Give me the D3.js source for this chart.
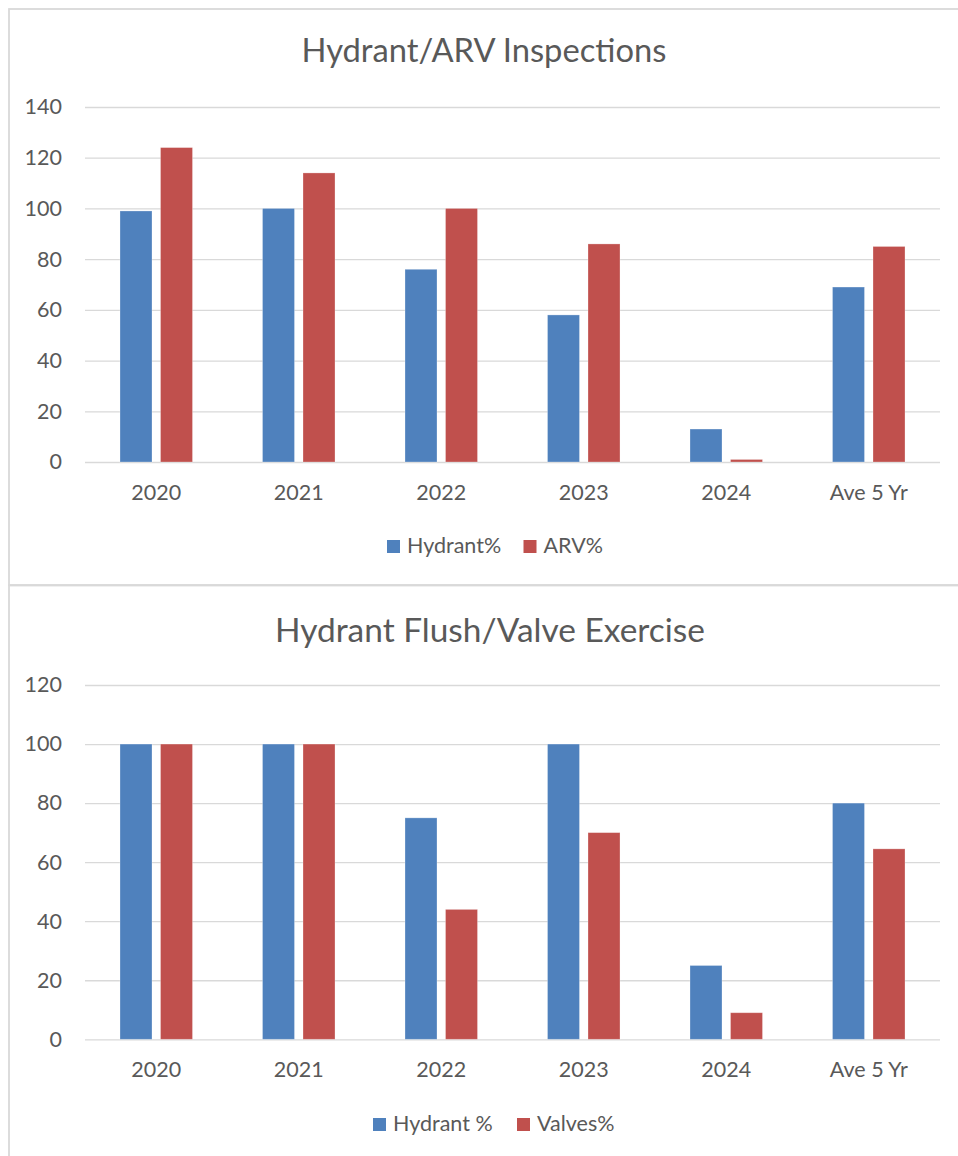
<!DOCTYPE html>
<html>
<head>
<meta charset="utf-8">
<script src="https://cdn.jsdelivr.net/npm/d3@7/dist/d3.min.js"></script>
<style>
  html, body { margin: 0; padding: 0; background: #fff; }
  svg { display: block; }
  text { font-family: Lato, "Open Sans", "Liberation Sans", sans-serif; fill: #595959; }
</style>
</head>
<body>
<script>
// ---- data ----
const categories = ["2020", "2021", "2022", "2023", "2024", "Ave 5 Yr"];

const chart1Title = "Hydrant/ARV Inspections";
const chart1Series = ["Hydrant%", "ARV%"];
const chart1Hydrant = [99, 100, 76, 58, 13, 69];
const chart1ARV = [124, 114, 100, 86, 1, 85];
const chart1Ticks = [0, 20, 40, 60, 80, 100, 120, 140];

const chart2Title = "Hydrant Flush/Valve Exercise";
const chart2Series = ["Hydrant %", "Valves%"];
const chart2Hydrant = [100, 100, 75, 100, 25, 80];
const chart2Valves = [100, 100, 44, 70, 9, 64.5];
const chart2Ticks = [0, 20, 40, 60, 80, 100, 120];

const colors = ["#4F81BD", "#C0504D"];

// ---- layout ----
const W = 958, H = 1156;
const svg = d3.select("body").append("svg").attr("width", W).attr("height", H);

// chart frames
svg.append("rect").attr("x", 9).attr("y", 9).attr("width", W + 20).attr("height", 576)
  .attr("fill", "none").attr("stroke", "#D9D9D9").attr("stroke-width", 1.8);
svg.append("rect").attr("x", 9).attr("y", 585.5).attr("width", W + 20).attr("height", 600)
  .attr("fill", "none").attr("stroke", "#D9D9D9").attr("stroke-width", 1.8);

function fitText(sel, target) {
  const w = sel.node().getComputedTextLength();
  const fs = parseFloat(sel.attr("font-size"));
  sel.attr("font-size", fs * target / w);
}

const LABEL_FS = 21.5;

function drawChart(cfg) {
  const g = svg.append("g");
  const x0 = d3.scaleBand().domain(categories).range([85, 940]).padding(0);
  const x1 = d3.scaleBand().domain(cfg.series).range([0, x0.bandwidth()])
    .paddingInner(0.21).paddingOuter(0.864);
  const y = d3.scaleLinear().domain([0, d3.max(cfg.ticks)]).range([cfg.bottom, cfg.top]);

  // gridlines + y labels via axis
  const yAxis = d3.axisLeft(y).tickValues(cfg.ticks).tickSize(-(940 - 85)).tickPadding(23)
    .tickFormat(d3.format("d"));
  const ya = g.append("g").attr("transform", "translate(85,0)").call(yAxis);
  ya.select(".domain").remove();
  ya.selectAll(".tick line").attr("stroke", "#D9D9D9").attr("stroke-width", 1.3);
  ya.selectAll(".tick text").attr("font-size", LABEL_FS).attr("fill", "#595959")
    .style("font-family", "Lato, sans-serif");

  // bars
  const rows = categories.map((c, i) => ({ cat: c, vals: cfg.values.map(v => v[i]) }));
  const grp = g.selectAll(".cat").data(rows).join("g")
    .attr("transform", d => `translate(${x0(d.cat)},0)`);
  grp.selectAll("rect").data(d => d.vals.map((v, k) => ({ s: cfg.series[k], v, k })))
    .join("rect")
    .attr("x", d => x1(d.s))
    .attr("width", x1.bandwidth())
    .attr("y", d => y(d.v))
    .attr("height", d => y(0) - y(d.v))
    .attr("fill", d => colors[d.k])
    .attr("stroke", "#fff").attr("stroke-opacity", 0.35).attr("stroke-width", 0.8);

  // x labels via axis
  const xAxis = d3.axisBottom(x0).tickSize(0).tickPadding(0);
  const xa = g.append("g").attr("transform", `translate(0,${cfg.bottom})`).call(xAxis);
  xa.select(".domain").remove();
  xa.selectAll(".tick text").attr("font-size", LABEL_FS).attr("fill", "#595959")
    .attr("dy", null).attr("y", cfg.xLabelBase - cfg.bottom)
    .style("font-family", "Lato, sans-serif");

  // title
  const t = g.append("text").attr("x", cfg.titleCx).attr("y", cfg.titleBase)
    .attr("text-anchor", "middle").attr("font-size", 34).text(cfg.title);
  fitText(t, cfg.titleWidth);

  // legend
  const lg = g.append("g");
  cfg.series.forEach((s, k) => {
    lg.append("rect").attr("x", cfg.legendX[k]).attr("y", cfg.legendBase - 13)
      .attr("width", 13).attr("height", 13).attr("fill", colors[k]);
    lg.append("text").attr("x", cfg.legendX[k] + 20).attr("y", cfg.legendBase)
      .attr("font-size", LABEL_FS).text(s);
  });
}

drawChart({
  title: chart1Title, series: chart1Series, values: [chart1Hydrant, chart1ARV], ticks: chart1Ticks,
  top: 107, bottom: 462, xLabelBase: 500, titleCx: 484, titleBase: 62, titleWidth: 365,
  legendX: [387, 523.5], legendBase: 553
});
drawChart({
  title: chart2Title, series: chart2Series, values: [chart2Hydrant, chart2Valves], ticks: chart2Ticks,
  top: 685, bottom: 1039.3, xLabelBase: 1077, titleCx: 490, titleBase: 641.5, titleWidth: 430,
  legendX: [373, 517], legendBase: 1131
});
</script>
</body>
</html>
